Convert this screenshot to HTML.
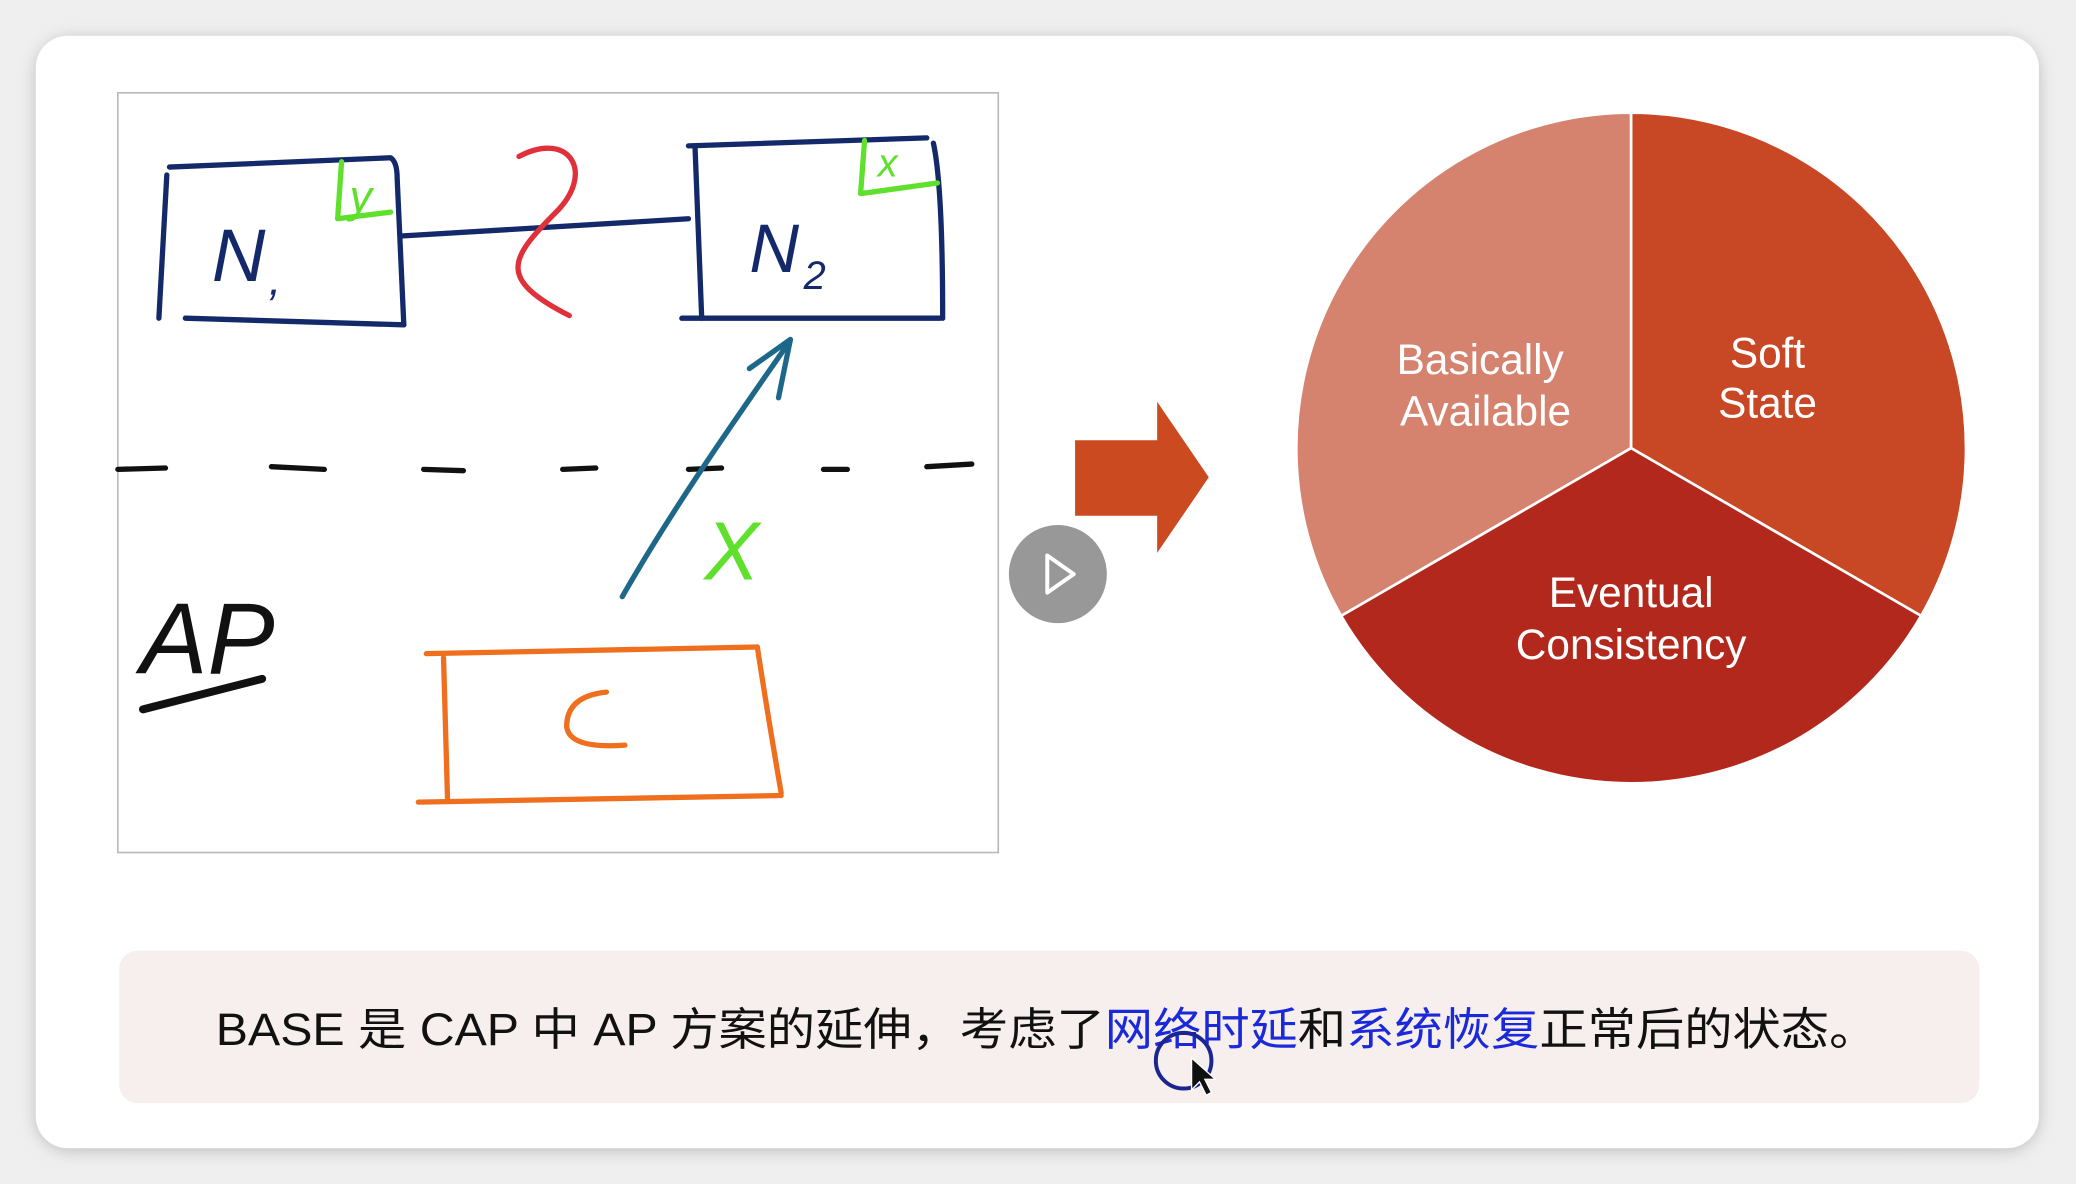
<!DOCTYPE html>
<html><head><meta charset="utf-8">
<style>
html,body{margin:0;padding:0;background:#ececec;}
svg{display:block;}
</style></head>
<body>
<svg width="2076" height="1184" viewBox="0 0 1568 893" preserveAspectRatio="none" xmlns="http://www.w3.org/2000/svg">
<defs>
<filter id="sh" x="-5%" y="-5%" width="110%" height="110%"><feGaussianBlur stdDeviation="6"/></filter>
</defs>
<rect x="0" y="0" width="1568" height="893" fill="#efefef"/>
<rect x="27" y="29" width="1513" height="839" rx="26" fill="#bdbdbd" filter="url(#sh)"/>
<rect x="27" y="27" width="1513" height="839" rx="24" fill="#ffffff"/>

<!-- left drawing frame -->
<rect x="89" y="70" width="665" height="573" fill="#fff" stroke="#b8b8b8" stroke-width="1.2"/>
<g fill="none" stroke-linecap="round" stroke-linejoin="round">
 <!-- N1 box -->
 <g stroke="#13296a" stroke-width="4">
  <path d="M128,126 L295,119 Q300,122 300,135 L305,245"/>
  <path d="M140,240 L305,245"/>
  <path d="M126,132 L120,240"/>
  <path d="M303,178 L520,165"/>
  <!-- N2 box -->
  <path d="M520,110 L700,104"/>
  <path d="M525,112 L530,240"/>
  <path d="M515,240 L710,240"/>
  <path d="M705,108 Q712,140 712,240"/>
 </g>
 <!-- green corners -->
 <g stroke="#5fe02c" stroke-width="4">
  <path d="M258,122 L255,165 L295,160"/>
  <path d="M653,106 L650,146 L708,138"/>
 </g>
 <!-- red squiggle -->
 <path d="M392,118 C430,98 450,130 420,160 C385,195 375,210 430,238" stroke="#e0303a" stroke-width="4"/>
 <!-- dashed line -->
 <g stroke="#111" stroke-width="4">
  <path d="M89,354 L125,353"/><path d="M205,352 L245,354"/><path d="M320,354 L350,355"/>
  <path d="M425,354 L450,353"/><path d="M520,354 L545,353"/><path d="M622,354 L640,354"/>
  <path d="M700,352 L734,350"/>
 </g>
 <!-- teal arrow -->
 <g stroke="#1d6889" stroke-width="4">
  <path d="M470,450 C510,380 560,310 596,258"/>
  <path d="M566,278 L597,256 L588,300"/>
 </g>
 <!-- AP underline -->
 <path d="M108,535 L198,512" stroke="#111" stroke-width="6"/>
 <!-- orange box -->
 <g stroke="#ef6f1e" stroke-width="4">
  <path d="M322,493 L572,488"/>
  <path d="M572,488 Q580,540 590,598"/>
  <path d="M316,605 L590,600"/>
  <path d="M335,496 L338,602"/>
  <path d="M458,522 Q428,525 428,548 Q430,565 472,562"/>
 </g>
</g>
<g font-family="'Liberation Sans',sans-serif" font-style="italic">
 <text x="160" y="212" font-size="56" fill="#13296a">N</text>
 <text x="203" y="222" font-size="34" fill="#13296a">,</text>
 <text x="566" y="205" font-size="52" fill="#13296a">N</text>
 <text x="607" y="218" font-size="30" fill="#13296a">2</text>
 <text x="264" y="160" font-size="34" fill="#5fe02c">y</text>
 <text x="663" y="133" font-size="30" fill="#5fe02c">x</text>
 <text x="532" y="437" font-size="62" fill="#5fe02c">X</text>
 <text x="106" y="508" font-size="76" fill="#111">AP</text>
</g>

<!-- play button -->
<circle cx="799" cy="433" r="37" fill="#8d8d8d" opacity="0.9"/>
<path d="M791,419 L811,433 L791,447 Z" fill="none" stroke="#fff" stroke-width="3" stroke-linejoin="round"/>

<!-- arrow -->
<polygon points="812,332 874,332 874,303 913,360 874,417 874,389 812,389" fill="#cc4a20"/>

<!-- pie -->
<g stroke="#fff" stroke-width="2">
 <path d="M1232,338 L1232,85 A253,253 0 0 0 1013,464.5 Z" fill="#d5826e"/>
 <path d="M1232,338 L1232,85 A253,253 0 0 1 1451,464.5 Z" fill="#c84724"/>
 <path d="M1232,338 L1013,464.5 A253,253 0 0 0 1451,464.5 Z" fill="#b3281c"/>
</g>
<g font-family="'Liberation Sans',sans-serif" font-size="32" fill="#fff" text-anchor="middle">
 <text x="1118" y="282">Basically</text>
 <text x="1122" y="321">Available</text>
 <text x="1335" y="277">Soft</text>
 <text x="1335" y="315">State</text>
 <text x="1232" y="458">Eventual</text>
 <text x="1232" y="497">Consistency</text>
</g>

<!-- caption -->
<rect x="90" y="717" width="1405" height="115" rx="14" fill="#f7efee"/>
<text x="163" y="788" font-size="34" fill="#111" font-family="'Liberation Sans','Noto Sans CJK SC',sans-serif" textLength="1255" lengthAdjust="spacingAndGlyphs">BASE 是 CAP 中 AP 方案的延伸，考虑了<tspan fill="#1a2ad8">网络时延</tspan>和<tspan fill="#1a2ad8">系统恢复</tspan>正常后的状态。</text>
<circle cx="894" cy="800" r="21" fill="none" stroke="#1a2590" stroke-width="3"/>
<path d="M900,798 L900,822 L906,816 L911,826 L915,824 L910,814 L918,814 Z" fill="#111" stroke="#fff" stroke-width="1"/>
</svg>
</body></html>
